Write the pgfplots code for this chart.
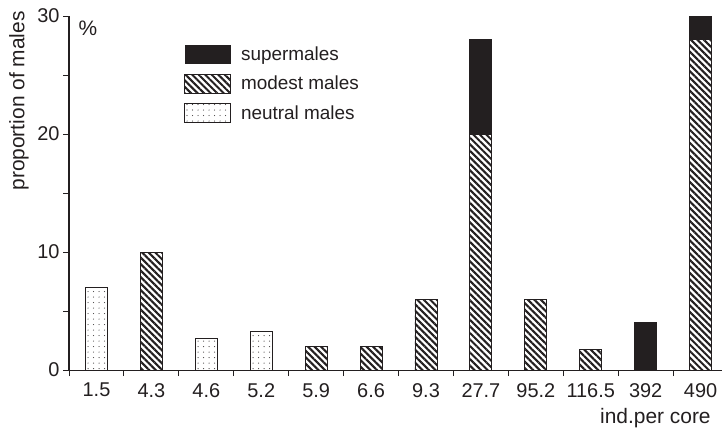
\documentclass[border=0pt]{standalone}
\usepackage{pgfplots}
\pgfplotsset{compat=1.18}
\usepackage{fontspec}
\setmainfont{Liberation Sans}
\usetikzlibrary{patterns.meta}
\definecolor{ink}{HTML}{231F20}
\newcommand{\ft}{\fontsize{20}{23}\selectfont}
\newcommand{\fl}{\fontsize{21}{24}\selectfont}
\newcommand{\fg}{\fontsize{19}{22}\selectfont}
\begin{document}
\begin{tikzpicture}
\begin{axis}[
 name=ax,
 x=54.9bp, y=11.8bp,
 xmin=-0.5, xmax=11.39, ymin=0, ymax=30,
 enlargelimits=false,
 axis lines*=left,
 axis line style={ink, line width=1.1bp},
 tick style={ink, line width=1bp},
 tick align=outside,
 major tick length=6bp, minor tick length=6bp,
 ytick={0,10,20,30}, minor ytick={5,15,25},
 xtick={0,...,11},
 xticklabels={1.5,4.3,4.6,5.2,5.9,6.6,9.3,27.7,95.2,116.5,392,490},
 major x tick style={draw=none},
 minor xtick={-0.5,0.5,...,10.5},
 /pgf/number format/assume math mode=true,
 ticklabel style={font=\ft, text=ink},
 xticklabel style={yshift=-3.5bp},
 label style={font=\fl, text=ink},
 ylabel={proportion of males},
 ylabel style={at={(axis description cs:-0.0766,0.76)}, anchor=center},
 xlabel={ind.per core},
 xlabel style={at={(axis description cs:0.988,-0.136)}, anchor=east},
 mylegend/.style={legend image code/.code={\path[##1,draw=none] (0bp,-9.5bp) rectangle (46bp,9.5bp);}},
 legend style={at={(axis description cs:0.176,0.919)}, anchor=north west, draw=none, fill=none, inner sep=0pt, row sep=9.5bp, column sep=8bp, font=\fg, text=ink},
 legend cell align=left,
]
\addplot[ybar, bar width=22bp, bar shift=0pt, fill=ink, draw=ink, line width=0.9bp, mylegend]
 coordinates {(7,28) (10,4) (11,30)};
\addlegendentry{supermales}
\addplot[ybar, bar width=22bp, bar shift=0pt, fill=white, draw=ink, line width=0.9bp,
 postaction={pattern={Lines[angle=-45,distance=4.6bp,line width=2.1bp]}, pattern color=ink}, mylegend]
 coordinates {(1,10) (4,2) (5,2) (6,6) (7,20) (8,6) (9,1.75) (11,28)};
\addlegendentry{modest males}
\addplot[ybar, bar width=22bp, bar shift=0pt, fill=white, draw=ink, line width=0.9bp,
 postaction={pattern={Dots[distance=5.5bp,radius=0.6bp]}, pattern color=ink!85}, mylegend]
 coordinates {(0,7) (2,2.65) (3,3.3)};
\addlegendentry{neutral males}
\node[font=\fl, text=ink] at (axis description cs:0.029,0.966) {\%};
\end{axis}
\pgfresetboundingbox
\path ([shift={(-69bp,-59bp)}]ax.south west) rectangle ([shift={(2bp,16bp)}]ax.north east);
\end{tikzpicture}
\end{document}
